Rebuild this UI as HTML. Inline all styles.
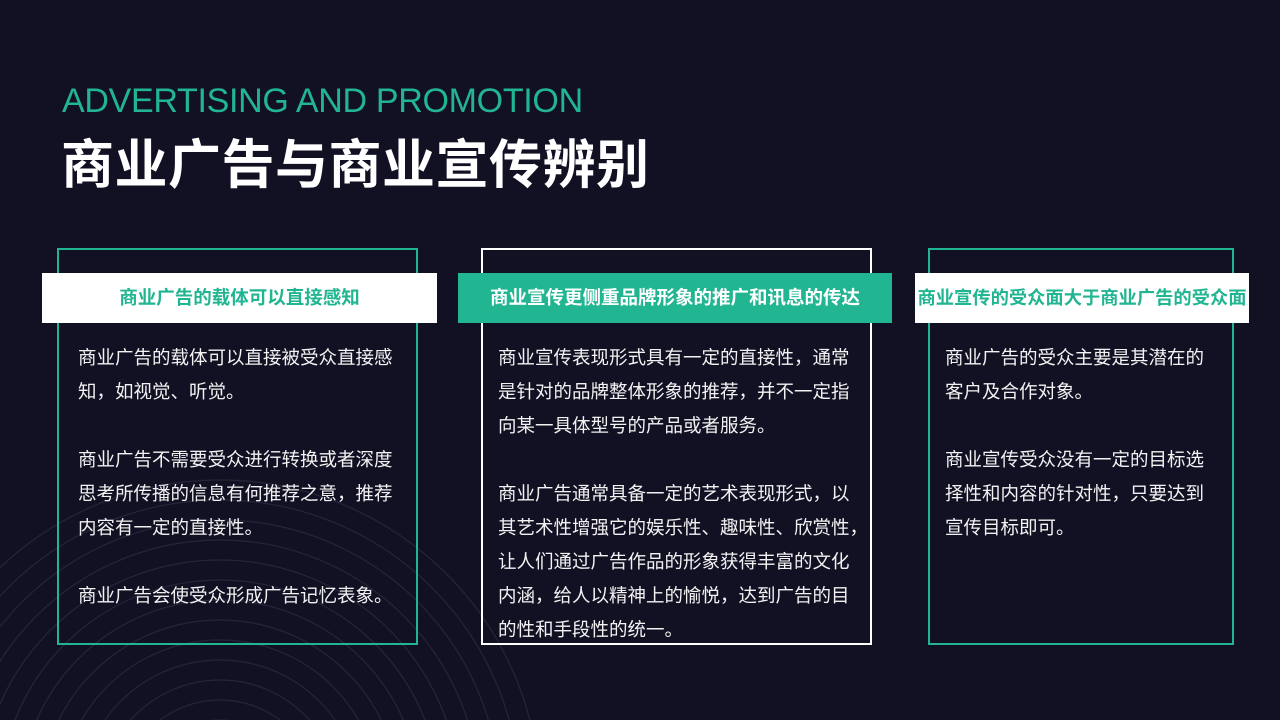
<!DOCTYPE html>
<html><head><meta charset="utf-8"><style>
*{margin:0;padding:0;box-sizing:border-box}
html,body{width:1280px;height:720px;overflow:hidden}
body{background:#121124;position:relative;font-family:"Liberation Sans","Noto Sans CJK SC",sans-serif;color:#fff}
.en{position:absolute;left:62px;top:82px;font-size:34px;color:#22b591;letter-spacing:-0.3px;white-space:nowrap}
.cn{position:absolute;left:61px;top:134px;font-size:53px;font-weight:bold;white-space:nowrap;line-height:64px;letter-spacing:0.5px}
.box{position:absolute;top:248px;height:397px;border:2px solid #22b591}
.hd{position:absolute;top:273px;height:50px;line-height:50px;text-align:center;font-size:18.5px;font-weight:bold;white-space:nowrap}
.tx{position:absolute;top:341px;font-size:18.5px;line-height:34px;color:#f2f2f2;white-space:nowrap}
</style></head><body>
<svg style="position:absolute;left:0;top:0" width="1280" height="720">
<g fill="none" stroke="#25253a" stroke-width="1.2">
<circle cx="220" cy="800" r="60"/><circle cx="220" cy="800" r="80"/><circle cx="220" cy="800" r="100"/><circle cx="220" cy="800" r="120"/><circle cx="220" cy="800" r="140"/><circle cx="220" cy="800" r="160"/><circle cx="220" cy="800" r="180"/><circle cx="220" cy="800" r="200"/><circle cx="220" cy="800" r="220"/><circle cx="220" cy="800" r="240"/><circle cx="220" cy="800" r="260"/><circle cx="220" cy="800" r="280"/><circle cx="220" cy="800" r="300"/><circle cx="220" cy="800" r="320"/>
</g></svg>
<div class="en">ADVERTISING AND PROMOTION</div>
<div class="cn">商业广告与商业宣传辨别</div>

<div class="box" style="left:57px;width:361px"></div>
<div class="hd" style="left:42px;width:395px;background:#fff;color:#22b591">商业广告的载体可以直接感知</div>
<div class="tx" style="left:78px">
商业广告的载体可以直接被受众直接感<br>知，如视觉、听觉。<br><br>
商业广告不需要受众进行转换或者深度<br>思考所传播的信息有何推荐之意，推荐<br>内容有一定的直接性。<br><br>
商业广告会使受众形成广告记忆表象。
</div>

<div class="box" style="left:481px;width:391px;border-color:#fff"></div>
<div class="hd" style="left:458px;width:434px;background:#22b591;color:#fff">商业宣传更侧重品牌形象的推广和讯息的传达</div>
<div class="tx" style="left:498px">
商业宣传表现形式具有一定的直接性，通常<br>是针对的品牌整体形象的推荐，并不一定指<br>向某一具体型号的产品或者服务。<br><br>
商业广告通常具备一定的艺术表现形式，以<br>其艺术性增强它的娱乐性、趣味性、欣赏性，<br>让人们通过广告作品的形象获得丰富的文化<br>内涵，给人以精神上的愉悦，达到广告的目<br>的性和手段性的统一。
</div>

<div class="box" style="left:928px;width:306px"></div>
<div class="hd" style="left:915px;width:334px;background:#fff;color:#22b591;font-size:18.3px">商业宣传的受众面大于商业广告的受众面</div>
<div class="tx" style="left:945px">
商业广告的受众主要是其潜在的<br>客户及合作对象。<br><br>
商业宣传受众没有一定的目标选<br>择性和内容的针对性，只要达到<br>宣传目标即可。
</div>
</body></html>
